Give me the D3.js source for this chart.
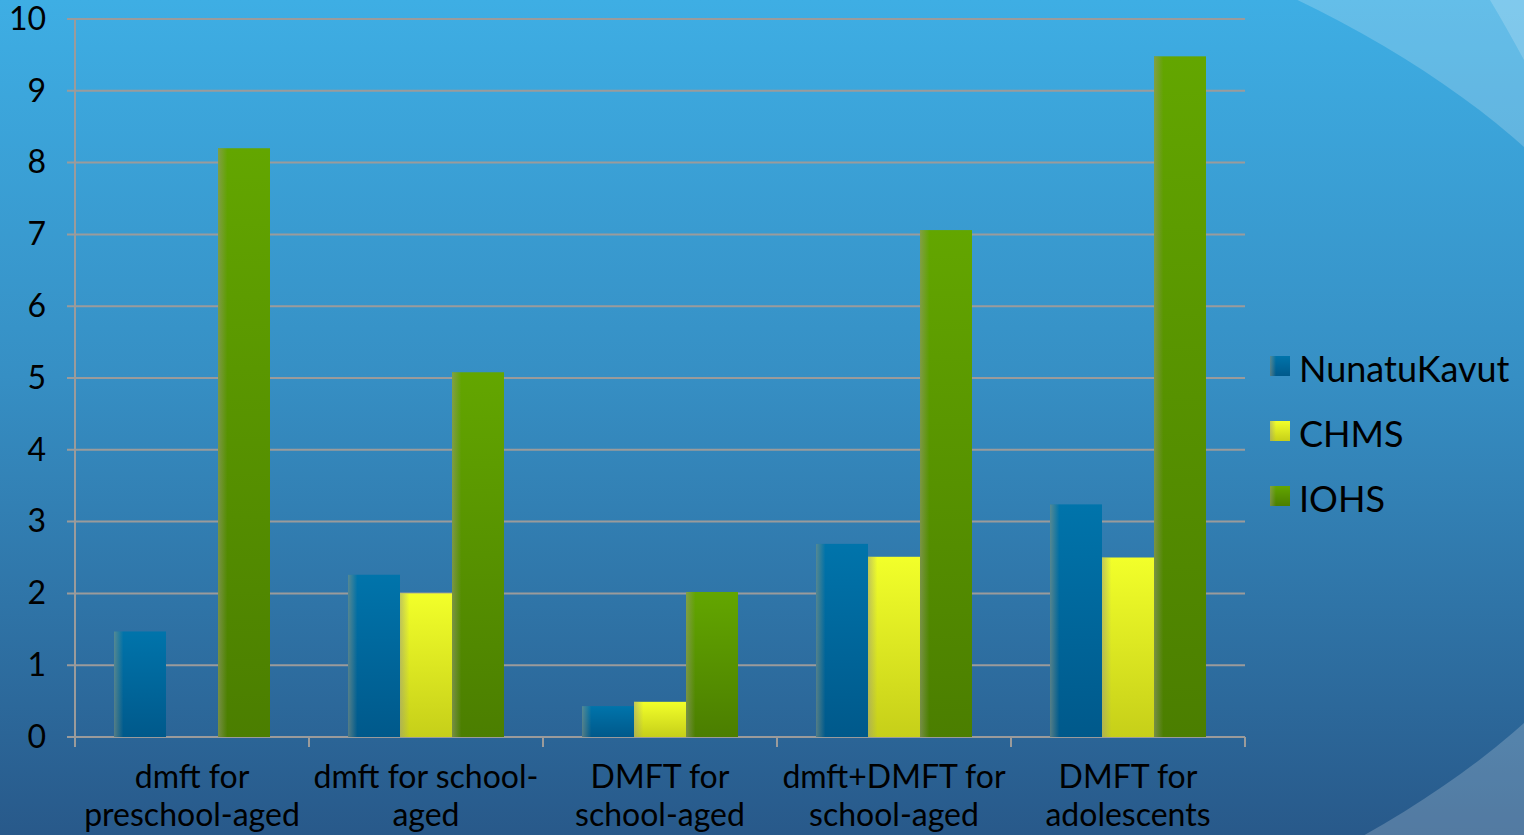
<!DOCTYPE html>
<html>
<head>
<meta charset="utf-8">
<script src="https://cdn.jsdelivr.net/npm/d3@7"></script>
<style>
  body { margin: 0; overflow: hidden; }
  svg { display: block; font-family: Lato, "Open Sans", sans-serif; }
</style>
</head>
<body>
<svg width="1524" height="835"></svg>
<script>
// data
const categories = ["dmft for preschool-aged", "dmft for school-aged", "DMFT for school-aged (2)", "dmft+DMFT for school-aged", "DMFT for adolescents"];
const categoryLines = [
  ["dmft for", "preschool-aged"],
  ["dmft for school-", "aged"],
  ["DMFT for", "school-aged"],
  ["dmft+DMFT for", "school-aged"],
  ["DMFT for", "adolescents"]
];
const seriesNames = ["NunatuKavut", "CHMS", "IOHS"];
const nunatuKavut = [1.47, 2.26, 0.43, 2.69, 3.24];
const chms = [null, 2.0, 0.49, 2.51, 2.5];
const iohs = [8.2, 5.08, 2.02, 7.06, 9.48];
const yTicks = [0, 1, 2, 3, 4, 5, 6, 7, 8, 9, 10];

const seriesValues = [nunatuKavut, chms, iohs];
const colors = {
  NunatuKavut: ["#0074ab", "#00598b"],
  CHMS: ["#f2ff2a", "#c6cf19"],
  IOHS: ["#63a600", "#4b7e00"]
};

const svg = d3.select("svg");
const W = 1524, H = 835;
const margin = { left: 75, right: 279, top: 19, bottom: 98 };

const defs = svg.append("defs");

// background
const bg = defs.append("linearGradient").attr("id", "bg")
  .attr("gradientUnits", "userSpaceOnUse")
  .attr("x1", 0).attr("y1", 0).attr("x2", 0).attr("y2", H);
bg.append("stop").attr("offset", "0%").attr("stop-color", "#3eaee4");
bg.append("stop").attr("offset", "45%").attr("stop-color", "#368fc4");
bg.append("stop").attr("offset", "100%").attr("stop-color", "#28598a");

svg.append("rect").attr("width", W).attr("height", H).attr("fill", "url(#bg)");
svg.append("rect").attr("width", W).attr("height", H).attr("fill", "#fff").attr("opacity", 0.2);
svg.append("ellipse")
  .attr("cx", 300).attr("cy", 435).attr("rx", 1375).attr("ry", 632)
  .attr("fill", "url(#bg)");
svg.append("path")
  .attr("d", "M1490,0 Q1505,25 1524,60 L1524,0 Z")
  .attr("fill", "#fff").attr("opacity", 0.18);

// bar gradients
seriesNames.forEach(name => {
  const g = defs.append("linearGradient").attr("id", "v-" + name)
    .attr("x1", 0).attr("y1", 0).attr("x2", 0).attr("y2", 1);
  g.append("stop").attr("offset", "0%").attr("stop-color", colors[name][0]);
  g.append("stop").attr("offset", "100%").attr("stop-color", colors[name][1]);
});
const edge = defs.append("linearGradient").attr("id", "edge")
  .attr("x1", 0).attr("y1", 0).attr("x2", 1).attr("y2", 0);
edge.append("stop").attr("offset", "0%").attr("stop-color", "#9a9a80").attr("stop-opacity", 0.55);
edge.append("stop").attr("offset", "100%").attr("stop-color", "#9a9a80").attr("stop-opacity", 0);

const x0 = d3.scaleBand()
  .domain(categories)
  .range([margin.left, W - margin.right]);

const x1 = d3.scaleBand()
  .domain(seriesNames)
  .range([0, x0.bandwidth()])
  .paddingInner(0)
  .paddingOuter(0.75);

const y = d3.scaleLinear()
  .domain([0, 10])
  .range([H - margin.bottom, margin.top]);

const gridColor = "#9b9b9b";

// gridlines
svg.append("g")
  .selectAll("line")
  .data(yTicks)
  .enter()
  .append("line")
  .attr("x1", margin.left - 8)
  .attr("x2", W - margin.right)
  .attr("y1", d => y(d))
  .attr("y2", d => y(d))
  .attr("stroke", gridColor)
  .attr("stroke-width", 2);

// y axis
svg.append("g")
  .attr("transform", `translate(${margin.left},0)`)
  .call(d3.axisLeft(y).tickValues(yTicks).tickSize(0).tickPadding(29))
  .call(g => g.select(".domain").remove())
  .selectAll("text")
  .attr("font-size", "32px")
  .attr("fill", "#000")
  .attr("font-family", "Lato, sans-serif");

svg.append("line")
  .attr("x1", margin.left).attr("x2", margin.left)
  .attr("y1", y(10)).attr("y2", y(0) + 10)
  .attr("stroke", gridColor).attr("stroke-width", 2);

// x ticks at category boundaries
const bounds = categories.map(c => x0(c)).concat([x0(categories[categories.length - 1]) + x0.bandwidth()]);
svg.append("g")
  .selectAll("line")
  .data(bounds)
  .enter()
  .append("line")
  .attr("x1", d => d).attr("x2", d => d)
  .attr("y1", y(0)).attr("y2", y(0) + 10)
  .attr("stroke", gridColor).attr("stroke-width", 2);

// bars
const groups = svg.append("g")
  .selectAll("g")
  .data(categories)
  .enter()
  .append("g")
  .attr("transform", d => `translate(${x0(d)},0)`);

const barData = (c, i) => seriesNames
  .map((s, k) => ({ series: s, value: seriesValues[k][i] }))
  .filter(d => d.value != null);

groups.selectAll("rect.bar")
  .data(barData)
  .enter()
  .append("rect")
  .attr("class", "bar")
  .attr("x", d => x1(d.series))
  .attr("y", d => y(d.value))
  .attr("width", x1.bandwidth())
  .attr("height", d => y(0) - y(d.value))
  .attr("fill", d => `url(#v-${d.series})`);

groups.selectAll("rect.edge")
  .data(barData)
  .enter()
  .append("rect")
  .attr("class", "edge")
  .attr("x", d => x1(d.series))
  .attr("y", d => y(d.value))
  .attr("width", x1.bandwidth() * 0.18)
  .attr("height", d => y(0) - y(d.value))
  .attr("fill", "url(#edge)");

// x labels
const xl = svg.append("g")
  .selectAll("text")
  .data(categories)
  .enter()
  .append("text")
  .attr("x", d => x0(d) + x0.bandwidth() / 2)
  .attr("text-anchor", "middle")
  .attr("font-size", "32px")
  .attr("fill", "#000");
xl.selectAll("tspan")
  .data((d, i) => categoryLines[i])
  .enter()
  .append("tspan")
  .attr("x", function () { return d3.select(this.parentNode).attr("x"); })
  .attr("y", (d, j) => 788 + j * 38)
  .text(d => d);

// legend
const legend = svg.append("g")
  .attr("transform", "translate(1270,356)");
const items = legend.selectAll("g")
  .data(seriesNames)
  .enter()
  .append("g")
  .attr("transform", (d, i) => `translate(0,${i * 65})`);
items.append("rect")
  .attr("width", 20).attr("height", 20)
  .attr("fill", d => `url(#v-${d})`);
items.append("rect")
  .attr("width", 6).attr("height", 20)
  .attr("fill", "url(#edge)");
items.append("text")
  .attr("x", 29)
  .attr("y", 26)
  .attr("font-size", "36px")
  .attr("fill", "#000")
  .text(d => d);
</script>
</body>
</html>
